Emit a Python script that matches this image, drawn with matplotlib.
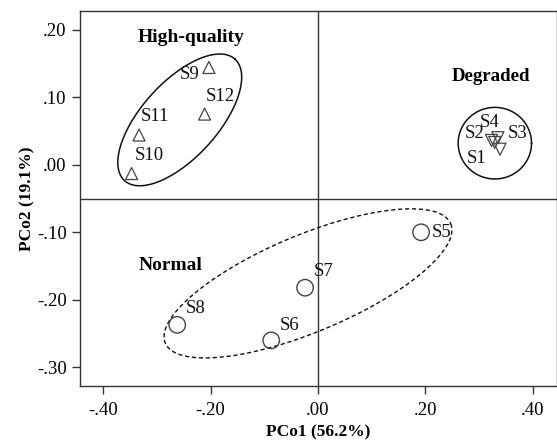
import numpy as np
import matplotlib
matplotlib.use("Agg")
import matplotlib.pyplot as plt
from matplotlib.ticker import FuncFormatter

plt.rcParams['font.family'] = ['Liberation Serif', 'DejaVu Serif']

# ---- data ----
hq_names = ["S9", "S10", "S11", "S12"]
hq_x = [-0.203, -0.347, -0.333, -0.211]
hq_y = [0.144, -0.013, 0.044, 0.075]

deg_names = ["S1", "S2", "S3", "S4"]
deg_x = [0.339, 0.323, 0.335, 0.329]
deg_y = [0.023, 0.036, 0.040, 0.033]

nor_names = ["S5", "S6", "S7", "S8"]
nor_x = [0.192, -0.087, -0.024, -0.262]
nor_y = [-0.100, -0.260, -0.182, -0.237]

xticks = [-0.40, -0.20, 0.00, 0.20, 0.40]
yticks = [-0.30, -0.20, -0.10, 0.00, 0.10, 0.20]

# label offsets in points (dx, dy, ha)
hq_off = {"S9": (-7, -5, "right"), "S10": (2, 13, "left"), "S11": (1, 13, "left"), "S12": (1, 13, "left")}
deg_off = {"S1": (-9.7, -6.8, "right"), "S2": (-4.8, 4.8, "right"), "S3": (7, 3.2, "left"), "S4": (-10.7, 14.4, "left")}
nor_off = {"S5": (8, 0, "left"), "S6": (6, 11, "left"), "S7": (6, 12, "left"), "S8": (6, 12, "left")}

fig = plt.figure(figsize=(5.57, 4.47), dpi=100)
ax = fig.add_axes([80/557, (447-386)/447, (557-80)/557, (386-10.7)/447])
ax.set_xlim(-0.443, 0.445)
ax.set_ylim(-0.3275, 0.228)

ec = "#333333"
ax.axvline(0, color=ec, lw=1.0, zorder=1)
ax.axhline(-0.05, color=ec, lw=1.0, zorder=1)

ax.scatter(hq_x, hq_y, marker="^", s=75, facecolors="none", edgecolors="#444444", linewidths=0.9, zorder=3)
ax.scatter(deg_x, deg_y, marker="v", s=75, facecolors="none", edgecolors="#444444", linewidths=0.9, zorder=3)
ax.scatter(nor_x, nor_y, marker="o", s=140, facecolors="none", edgecolors="#444444", linewidths=1.0, zorder=3)

fs = 13.5
for names, xs, ys, off in [(hq_names, hq_x, hq_y, hq_off), (deg_names, deg_x, deg_y, deg_off), (nor_names, nor_x, nor_y, nor_off)]:
    for n, x, y in zip(names, xs, ys):
        dx, dy, ha = off[n]
        ax.annotate(n, (x, y), xytext=(dx, dy), textcoords="offset points", ha=ha, va="center", fontsize=fs, color="#111111")

def ell(c, u, v, **kw):
    t = np.linspace(0, 2*np.pi, 300)
    xs = c[0] + u[0]*np.cos(t) + v[0]*np.sin(t)
    ys = c[1] + u[1]*np.cos(t) + v[1]*np.sin(t)
    ax.plot(xs, ys, color="#111111", zorder=2, **kw)

ell((-0.2573, 0.0664), (0.1029, 0.0899), (0.0521, -0.0378), lw=1.1)
ell((0.3293, 0.0319), (0.0683, 0.0), (0.0, 0.0530), lw=1.1)
ell((-0.0186, -0.1756), (0.2657, 0.0883), (0.0347, -0.0662), lw=1.0, ls=(0, (3, 2)))

gfs = 14
ax.text(-0.2363, 0.188, "High-quality", fontsize=gfs, fontweight="bold", ha="center", va="center")
ax.text(0.3215, 0.1304, "Degraded", fontsize=13.6, fontweight="bold", ha="center", va="center")
ax.text(-0.2753, -0.1496, "Normal", fontsize=gfs, fontweight="bold", ha="center", va="center")

fmt = FuncFormatter(lambda v, p: ("-" if v < -1e-9 else "") + ("%.2f" % abs(v))[1:])
ax.set_xticks(xticks)
ax.set_yticks(yticks)
ax.xaxis.set_major_formatter(fmt)
ax.yaxis.set_major_formatter(fmt)
ax.tick_params(direction="out", length=5.6, width=1.0, color="#333333", labelsize=13.5, pad=4)
ax.tick_params(axis="x", pad=6)
for s in ax.spines.values():
    s.set_color("#333333")
    s.set_linewidth(1.0)

ax.set_xlabel("PCo1 (56.2%)", fontsize=12.5, fontweight="bold", labelpad=4)
ax.set_ylabel("PCo2 (19.1%)", fontsize=12.5, fontweight="bold", labelpad=1)

fig.savefig("out.png", dpi=100)
